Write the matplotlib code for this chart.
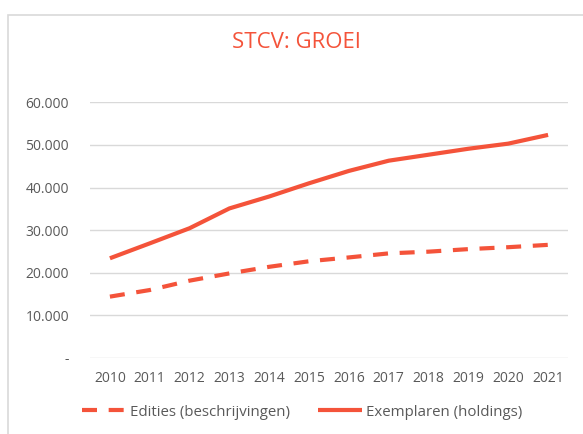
import matplotlib.pyplot as plt
import matplotlib.ticker as mticker
from matplotlib.patches import Rectangle

jaren = ['2010', '2011', '2012', '2013', '2014', '2015',
         '2016', '2017', '2018', '2019', '2020', '2021']
edities = [14400, 15950, 18150, 19850, 21400, 22700,
           23600, 24550, 24950, 25550, 26000, 26550]
exemplaren = [23400, 26900, 30450, 35100, 37900, 41000,
              43900, 46300, 47700, 49100, 50300, 52350]

oranje = '#F4533A'
grijs = '#595959'

plt.rcParams['font.family'] = ['Open Sans', 'DejaVu Sans']

fig = plt.figure(figsize=(5.83, 4.34), dpi=100)
ax = fig.add_axes([90/583, 76/434, 478/583, 255.7/434])

x = list(range(len(jaren)))
ax.plot(x, edities, color=oranje, lw=3, dashes=(3.6, 2.8),
        label='Edities (beschrijvingen)')
ax.plot(x, exemplaren, color=oranje, lw=3, solid_capstyle='butt',
        label='Exemplaren (holdings)')

ax.set_xlim(-0.5, len(jaren) - 0.5)
ax.set_ylim(0, 60000)
ax.set_yticks(range(0, 60001, 10000))
ax.yaxis.set_major_formatter(mticker.FuncFormatter(
    lambda v, p: '-' if v == 0 else f'{int(v):,}'.replace(',', '.')))
ax.set_xticks(x)
ax.set_xticklabels(jaren)

ax.grid(axis='y', color='#D9D9D9', lw=1)
ax.set_axisbelow(True)
for s in ax.spines.values():
    s.set_visible(False)
ax.tick_params(length=0, labelsize=10, labelcolor=grijs)
ax.tick_params(axis='y', pad=15)
ax.tick_params(axis='x', pad=9)

fig.text(297/583, 1 - 43/434, 'STCV: GROEI', color=oranje, fontsize=16,
         ha='center', va='center')

fig.legend(loc='center', bbox_to_anchor=(302/583, 1 - 412/434), ncol=2,
           frameon=False, fontsize=10.8, labelcolor=grijs,
           handlelength=2.9, handletextpad=0.3, columnspacing=1.9)

# rand van het grafiekgebied
fig.add_artist(Rectangle((8/583, -0.1), 1.0, 1.1 - 15/434,
                         transform=fig.transFigure, fill=False,
                         edgecolor='#D9D9D9', lw=1.2))

fig.savefig('out.png', dpi=100)
